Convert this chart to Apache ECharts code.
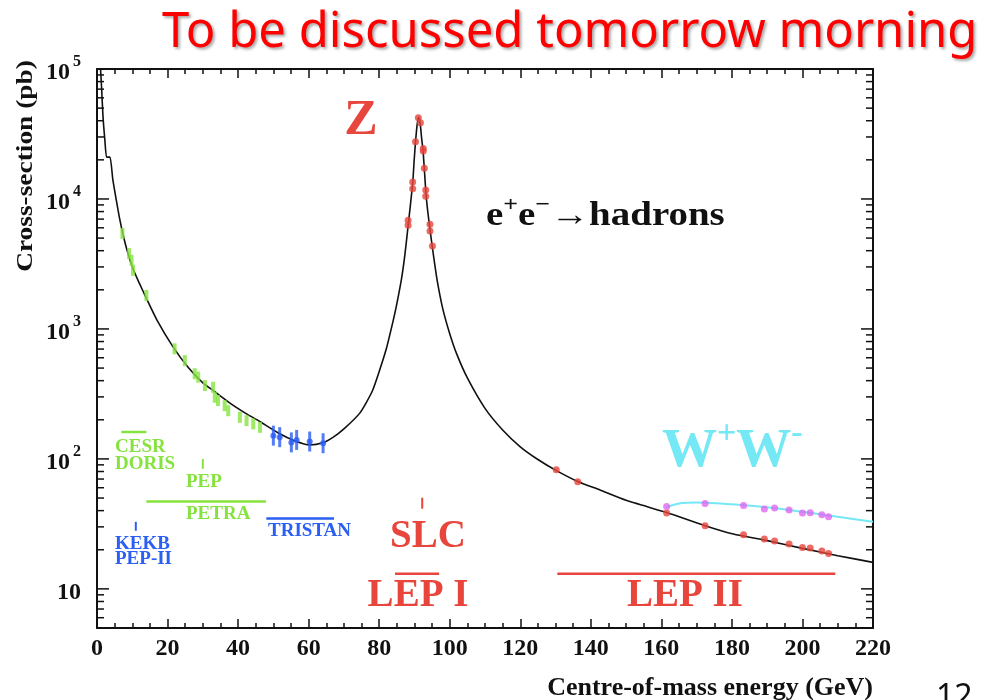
<!DOCTYPE html>
<html><head><meta charset="utf-8">
<script src="https://cdn.jsdelivr.net/npm/echarts@6/dist/echarts.min.js"></script>
<style>html,body{margin:0;padding:0;background:#fff}#c{width:985px;height:700px}</style>
</head><body><div id="c"></div>
<script>
// ---------- data ----------
const xTicks = [0, 20, 40, 60, 80, 100, 120, 140, 160, 180, 200, 220];
const yDecades = [10, 100, 1000, 10000, 100000];

// Theory curve e+e- -> hadrons (GeV, pb)
const theoryE = [1.0, 1.3, 1.7, 2.2, 2.7, 3.2, 3.7, 4.5, 5.5, 6.4, 7.4, 8.5, 10.2, 12, 14, 17, 21.6, 26, 30, 33, 38, 42.4, 46, 51.8, 56, 60.3, 64, 67, 70, 74.5, 78, 80, 82, 84, 85, 86.35, 87.3, 88.2, 89.5, 89.9, 90.3, 90.8, 91.2, 91.5, 91.75, 92.0, 92.5, 93.25, 93.8, 94.6, 95.5, 96.45, 98, 100, 102, 105, 110, 115, 120, 125, 130, 136.3, 142.6, 150, 161.5, 172.4, 180.4, 190, 200, 210, 220];
const theorySigma = [100000, 72000, 43000, 29000, 21000, 21000, 21000, 14000, 9700, 7080, 5300, 4050, 2900, 2250, 1720, 1170, 725, 500, 385, 335, 265, 222, 195, 156, 138, 128, 133, 147, 170, 225, 330, 470, 700, 1170, 1560, 2450, 3750, 6200, 13200, 19500, 27500, 38000, 42500, 39500, 35500, 30000, 22500, 11100, 7900, 5300, 3500, 2350, 1440, 920, 640, 420, 245, 167, 124, 99, 82, 67, 57.6, 48, 38.7, 30.6, 26.4, 23.5, 20.5, 18, 16];

// Low-energy data (PETRA, PEP, CESR, DORIS)
const greenE = [7.2, 9.1, 9.8, 10.2, 14.0, 22.0, 24.9, 27.7, 28.7, 30.6, 32.9, 33.4, 34.3, 36.2, 37.2, 40.5, 42.4, 44.3, 46.2];
const greenSigma = [5420, 3800, 3370, 2825, 1810, 703, 571, 452, 426, 367, 356, 298, 281, 257, 235, 209, 197, 186, 175];

// TRISTAN data
const blueE = [50.0, 51.8, 55.1, 56.6, 60.3, 64.1];
const blueSigma = [151, 147, 134, 140, 136, 132];

// LEP I Z scan
const lep1E = [91.1, 91.7, 90.3, 92.5, 92.5, 92.8, 89.5, 89.5, 93.2, 93.2, 88.2, 88.2, 94.4, 94.4, 95.1];
const lep1Sigma = [42200, 38600, 27500, 24500, 23400, 17200, 13500, 12000, 11700, 10500, 6860, 6280, 6380, 5670, 4350];

// LEP II hadrons
const lep2E = [130.2, 136.3, 161.5, 172.4, 183.3, 189.2, 192.1, 196.2, 200.0, 202.2, 205.5, 207.4];
const lep2Sigma = [82.6, 66.8, 38.3, 30.6, 26.1, 24.2, 23.4, 22.1, 20.8, 20.6, 19.6, 18.7];

// LEP II W+W- (plotted)
const wwE = [161.5, 172.4, 183.3, 189.2, 192.1, 196.2, 200.0, 202.2, 205.5, 207.4];
const wwSigma = [43.1, 45.4, 43.8, 41.1, 41.9, 40.4, 38.3, 38.5, 37.1, 35.9];
const wwCurveE = [161.5, 165, 170, 180, 190, 200, 210, 220];
const wwCurveSigma = [42.5, 45.4, 46.2, 44.7, 42.4, 39.2, 35.9, 32.8];

// Collider energy ranges: [start, end, level]
const rangeNames = ['CESR', 'PETRA', 'TRISTAN', 'LEP I', 'LEP II'];
const rangeStart = [6.9, 14.0, 48.0, 84.5, 130.5];
const rangeEnd = [14.0, 47.9, 67.2, 97.0, 209.3];
const rangeLevel = [161, 47.1, 34.8, 13.1, 13.1];
// Single-energy markers: [energy, low, high]
const markNames = ['PEP', 'KEKB', 'SLC'];
const markE = [30.0, 11.0, 92.2];
const markLow = [84, 28, 41.4];
const markHigh = [100, 32.8, 50.3];

// ---------- styling ----------
const SERIF = "'Liberation Serif','Times New Roman',serif";
const RED = '#e8453c', GREEN = '#86e33f', BLUE = '#2b5ef2', MAG = '#e066f0', CYAN = '#74e8f5';
const rangeColors = [GREEN, GREEN, BLUE, RED, RED];
const markColors = [GREEN, BLUE, RED];

const pairs = (xs, ys) => xs.map((x, i) => [x, ys[i]]);

const minorY = [];
yDecades.forEach(d => { for (let k = 2; k <= 9; k++) { const v = k * d / 10; if (v > 5 && v < 100000) minorY.push([0, v]); } });

const yFmt = v => {
  const e = Math.round(Math.log10(v));
  if (Math.abs(Math.pow(10, e) - v) > 1e-6 * v) return '';
  return e === 1 ? '{b|10}' : '{b|10}{s|' + e + '}';
};

const tickRenderer = len => (params, api) => {
  const cs = params.coordSys;
  const y = api.coord([0, api.value(1)])[1];
  return { type: 'group', children: [
    { type: 'line', shape: { x1: cs.x, y1: y, x2: cs.x + len, y2: y }, style: { stroke: '#111', lineWidth: 1.5 } },
    { type: 'line', shape: { x1: cs.x + cs.width - len, y1: y, x2: cs.x + cs.width, y2: y }, style: { stroke: '#111', lineWidth: 1.5 } }
  ] };
};

const series = [];
series.push({
  type: 'line', data: pairs(theoryE, theorySigma), showSymbol: false, smooth: 0.2,
  lineStyle: { color: '#111', width: 1.6 }, z: 3, silent: true
});
series.push({
  type: 'line', data: pairs(wwCurveE, wwCurveSigma), showSymbol: false, smooth: 0.3,
  lineStyle: { color: CYAN, width: 2 }, z: 3, silent: true
});
rangeNames.forEach((n, i) => series.push({
  type: 'line', name: n, data: [[rangeStart[i], rangeLevel[i]], [rangeEnd[i], rangeLevel[i]]],
  showSymbol: false, lineStyle: { color: rangeColors[i], width: 2.5 }, silent: true
}));
markNames.forEach((n, i) => series.push({
  type: 'line', name: n, data: [[markE[i], markLow[i]], [markE[i], markHigh[i]]],
  showSymbol: false, lineStyle: { color: markColors[i], width: 2 }, silent: true
}));
series.push({ type: 'scatter', data: pairs(greenE, greenSigma), symbol: 'rect', symbolSize: [4, 11], itemStyle: { color: GREEN }, z: 4 });
series.push({ type: 'scatter', data: pairs(blueE, blueSigma), symbol: 'rect', symbolSize: [3, 20], itemStyle: { color: BLUE }, z: 4 });
series.push({ type: 'scatter', data: pairs(blueE, blueSigma), symbol: 'circle', symbolSize: 6, itemStyle: { color: BLUE }, z: 4 });
series.push({ type: 'scatter', data: pairs(lep1E, lep1Sigma), symbolSize: 7, itemStyle: { color: RED }, z: 5 });
series.push({ type: 'scatter', data: pairs(lep2E, lep2Sigma), symbolSize: 7, itemStyle: { color: RED }, z: 5 });
series.push({ type: 'scatter', data: pairs(wwE, wwSigma), symbolSize: 7, itemStyle: { color: MAG }, z: 5 });
series.push({ type: 'custom', data: minorY, silent: true, z: 6, renderItem: tickRenderer(7) });
series.push({ type: 'custom', data: yDecades.map(v => [0, v]), silent: true, z: 6, renderItem: tickRenderer(12) });

const txt = (text, x, y, color, size, align, extra) => Object.assign({
  type: 'text', x: x, y: y, z: 50,
  style: { text: text, fill: color, font: 'bold ' + size + 'px ' + SERIF, textAlign: align || 'left', textVerticalAlign: 'middle' }
}, extra || {});

const graphics = [
  { type: 'text', x: 162, y: 33, z: 50, style: { text: 'To be discussed tomorrow morning', fill: '#ff0000', font: "49px 'Noto Sans', 'Open Sans', sans-serif", textVerticalAlign: 'middle', textShadowColor: 'rgba(0,0,0,0.35)', textShadowBlur: 3, textShadowOffsetX: 2, textShadowOffsetY: 2 } },
  txt('Cross-section (pb)', 26, 166, '#111', 23, 'center', { rotation: Math.PI / 2, scaleX: 1.19 }),
  txt('Centre-of-mass energy (GeV)', 873, 688, '#111', 26, 'right'),
  { type: 'text', x: 936, y: 698, z: 50, style: { text: '12', fill: '#111', font: "32px 'Noto Sans', sans-serif", textVerticalAlign: 'middle' } },
  txt('Z', 361, 121, RED, 50, 'center'),
  { type: 'text', x: 486, y: 216, z: 50, scaleX: 1.18, style: { text: '{b|e}{s|+}{b|e}{s|\u2212}{b|\u2192hadrons}', fill: '#111', textVerticalAlign: 'middle',
      rich: { b: { font: 'bold 33px ' + SERIF, fill: '#111' }, s: { font: 'bold 22px ' + SERIF, fill: '#111', padding: [0, 0, 22, 0] } } } },
  { type: 'text', x: 662, y: 452, z: 50, style: { text: '{b|W}{s|+}{b|W}{s|-}', fill: CYAN, textVerticalAlign: 'middle',
      rich: { b: { font: 'bold 55px ' + SERIF, fill: CYAN }, s: { font: 'bold 34px ' + SERIF, fill: CYAN, padding: [0, 0, 36, 0] } } } },
  txt('CESR', 115, 447, GREEN, 19),
  txt('DORIS', 115, 464, GREEN, 19),
  txt('PEP', 186, 482, GREEN, 19),
  txt('PETRA', 186, 514, GREEN, 19),
  txt('TRISTAN', 268, 531, BLUE, 19),
  txt('KEKB', 115, 544, BLUE, 19),
  txt('PEP-II', 115, 559, BLUE, 19),
  txt('SLC', 428, 537, RED, 39, 'center'),
  txt('LEP I', 418, 596, RED, 39, 'center'),
  txt('LEP II', 685, 596, RED, 39, 'center')
];

const axisLineStyle = { color: '#111', width: 2 };
const option = {
  animation: false,
  backgroundColor: '#fff',
  grid: { left: 97, right: 112, top: 69, bottom: 72, containLabel: false },
  xAxis: [
    { type: 'value', min: 0, max: 220, interval: 20, position: 'bottom',
      axisLine: { onZero: false, lineStyle: axisLineStyle }, splitLine: { show: false },
      axisTick: { inside: true, length: 9, lineStyle: { color: '#111', width: 1.5 } },
      minorTick: { show: true, splitNumber: 4, length: 5, lineStyle: { color: '#111', width: 1.5 } },
      axisLabel: { margin: 9, color: '#111', fontFamily: SERIF, fontWeight: 'bold', fontSize: 24 } },
    { type: 'value', min: 0, max: 220, interval: 20, position: 'top',
      axisLine: { onZero: false, lineStyle: axisLineStyle }, splitLine: { show: false },
      axisTick: { inside: true, length: 9, lineStyle: { color: '#111', width: 1.5 } },
      minorTick: { show: true, splitNumber: 4, length: 5, lineStyle: { color: '#111', width: 1.5 } },
      axisLabel: { show: false } }
  ],
  yAxis: [
    { type: 'log', logBase: 10, min: 5, max: 100000, position: 'left',
      axisLine: { onZero: false, lineStyle: axisLineStyle }, splitLine: { show: false },
      axisTick: { show: false },
      axisLabel: { margin: 16, formatter: yFmt, color: '#111',
        rich: { b: { fontFamily: SERIF, fontWeight: 'bold', fontSize: 24, color: '#111', padding: [8, 0, 0, 0] },
                s: { fontFamily: SERIF, fontWeight: 'bold', fontSize: 16, color: '#111', padding: [0, 0, 14, 3] } } } },
    { type: 'log', logBase: 10, min: 5, max: 100000, position: 'right',
      axisLine: { onZero: false, lineStyle: axisLineStyle }, splitLine: { show: false },
      axisTick: { show: false },
      axisLabel: { show: false } }
  ],
  series: series,
  graphic: graphics
};
const chart = echarts.init(document.getElementById('c'));
chart.setOption(option);
</script>
</body></html>
